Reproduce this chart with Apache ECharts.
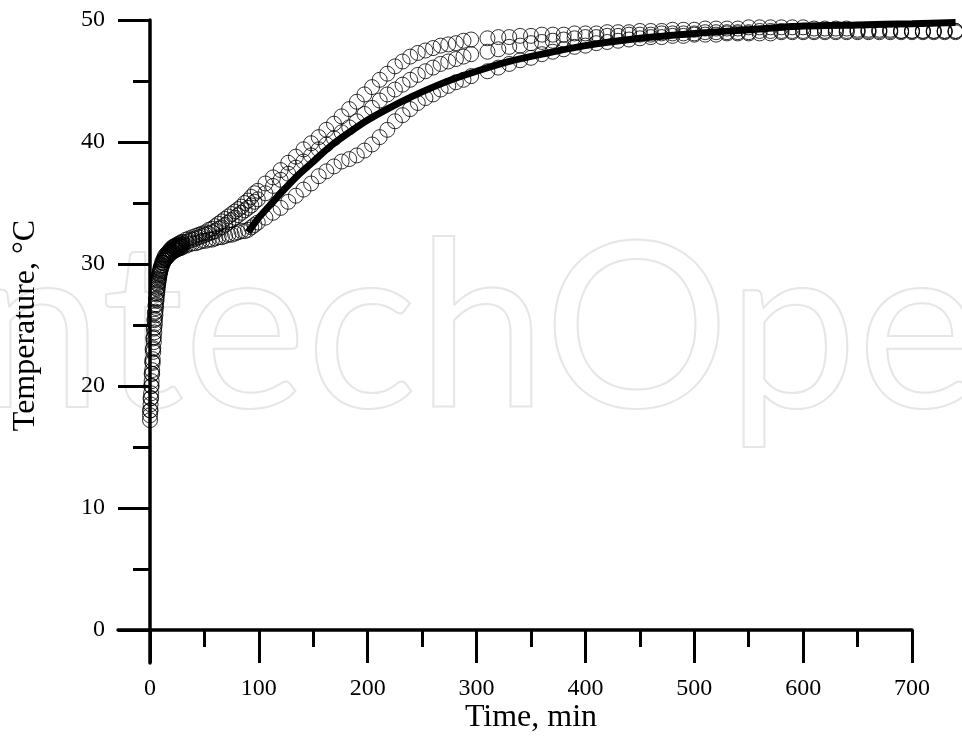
<!DOCTYPE html>
<html>
<head>
<meta charset="utf-8">
<script src="https://cdn.jsdelivr.net/npm/echarts@6/dist/echarts.min.js"></script>
<style>
  html, body { margin: 0; padding: 0; background: #fff; }
  #main { width: 962px; height: 742px; }
</style>
</head>
<body>
<div id="main"></div>
<script>
// tick positions
var xMajor = [0, 100, 200, 300, 400, 500, 600, 700];
var xMinor = [50, 150, 250, 350, 450, 550, 650];
var yMajor = [0, 10, 20, 30, 40, 50];
var yMinor = [5, 15, 25, 35, 45];

// sampling times of the measured runs (min)
var times = [
  0, 0.5, 1, 1.5, 2, 2.5, 3, 3.5, 4, 4.5, 5, 5.5, 6, 6.5, 7, 7.5, 8, 8.5, 9, 9.5, 10,
  11, 12, 13, 14, 15, 16, 17, 18, 19, 20, 21, 22, 23, 24, 25, 26, 27, 28, 29, 30,
  33, 36, 39, 42, 45, 48, 51, 54, 57, 60, 63, 66, 69, 72, 75, 78, 81, 84, 87, 90, 93, 96, 99,
  106, 113, 120, 127, 134, 141, 148, 155, 162, 169, 176, 183, 190, 197, 204, 211, 218, 225,
  232, 239, 246, 253, 260, 267, 274, 281, 288, 295,
  310, 320, 330, 340, 350, 360, 370, 380, 390, 400, 410, 420, 430, 440, 450, 460, 470, 480,
  490, 500, 510, 520, 530, 540, 550, 560, 570, 580, 590, 600, 610, 620, 630, 640, 650, 660,
  670, 680, 690, 700, 710, 720, 730, 740
];

// measured temperatures (°C), three runs
var runA = [
  18.0, 19.0, 20.0, 21.0, 22.0, 23.0, 23.9, 24.7, 25.4, 26.0, 26.6, 27.1, 27.6, 28.0, 28.4, 28.7, 29.0, 29.2, 29.4, 29.6, 29.8,
  30.1, 30.3, 30.5, 30.7, 30.8, 30.9, 31.0, 31.1, 31.2, 31.3, 31.4, 31.4, 31.5, 31.5, 31.6, 31.6, 31.7, 31.7, 31.8, 31.8,
  32.0, 32.1, 32.2, 32.3, 32.4, 32.5, 32.6, 32.8, 32.9, 33.1, 33.3, 33.5, 33.7, 33.9, 34.1, 34.3, 34.5, 34.7, 35.0, 35.2, 35.5, 35.8, 36.0,
  36.6, 37.1, 37.7, 38.3, 38.8, 39.4, 39.9, 40.4, 41.0, 41.5, 42.1, 42.7, 43.3, 43.9, 44.5, 45.1, 45.6, 46.2,
  46.6, 47.0, 47.3, 47.5, 47.7, 47.9, 48.0, 48.1, 48.3, 48.4,
  48.5, 48.6, 48.6, 48.7, 48.7, 48.8, 48.8, 48.8, 48.9, 48.9, 48.9, 49.0, 49.0, 49.0, 49.1, 49.1, 49.1, 49.2,
  49.2, 49.2, 49.3, 49.3, 49.3, 49.3, 49.4, 49.4, 49.4, 49.4, 49.4, 49.4, 49.3, 49.3, 49.3, 49.3, 49.2, 49.2,
  49.2, 49.2, 49.1, 49.1, 49.1, 49.1, 49.1, 49.1
];
var runB = [
  17.2, 18.0, 19.0, 20.0, 21.0, 21.9, 22.8, 23.6, 24.4, 25.1, 25.8, 26.4, 27.0, 27.5, 27.9, 28.3, 28.6, 28.9, 29.2, 29.4, 29.6,
  29.9, 30.1, 30.3, 30.5, 30.6, 30.7, 30.8, 30.9, 31.0, 31.1, 31.2, 31.2, 31.3, 31.3, 31.4, 31.4, 31.5, 31.5, 31.6, 31.6,
  31.8, 31.9, 32.0, 32.1, 32.2, 32.3, 32.4, 32.5, 32.6, 32.7, 32.9, 33.0, 33.2, 33.4, 33.6, 33.8, 34.0, 34.2, 34.4, 34.6, 34.8, 35.1, 35.3,
  35.8, 36.4, 36.9, 37.4, 37.9, 38.4, 38.9, 39.4, 39.8, 40.3, 40.8, 41.2, 41.7, 42.3, 42.8, 43.4, 43.9, 44.3,
  44.7, 45.1, 45.5, 45.8, 46.1, 46.4, 46.6, 46.8, 47.0, 47.2,
  47.4, 47.6, 47.8, 47.9, 48.1, 48.2, 48.3, 48.4, 48.5, 48.6, 48.6, 48.7, 48.7, 48.8, 48.8, 48.8, 48.9, 48.9,
  48.9, 48.9, 49.0, 49.0, 49.0, 49.0, 49.0, 49.1, 49.1, 49.1, 49.1, 49.1, 49.1, 49.1, 49.1, 49.1, 49.1, 49.1,
  49.1, 49.1, 49.1, 49.1, 49.1, 49.1, 49.1, 49.1
];
var runC = [
  17.6, 18.5, 19.4, 20.4, 21.3, 22.2, 23.1, 24.0, 24.8, 25.5, 26.1, 26.7, 27.2, 27.7, 28.1, 28.5, 28.8, 29.1, 29.3, 29.5, 29.7,
  29.9, 30.1, 30.3, 30.4, 30.5, 30.6, 30.7, 30.8, 30.9, 31.0, 31.0, 31.1, 31.1, 31.2, 31.2, 31.3, 31.3, 31.3, 31.4, 31.4,
  31.5, 31.6, 31.7, 31.7, 31.8, 31.9, 31.9, 32.0, 32.0, 32.1, 32.2, 32.2, 32.3, 32.4, 32.4, 32.5, 32.6, 32.7, 32.7, 32.8, 33.0, 33.2, 33.4,
  33.8, 34.2, 34.6, 35.1, 35.6, 36.1, 36.6, 37.2, 37.6, 38.0, 38.4, 38.6, 38.9, 39.3, 39.8, 40.4, 41.0, 41.7,
  42.2, 42.7, 43.2, 43.6, 43.9, 44.3, 44.6, 44.9, 45.1, 45.4,
  45.8, 46.1, 46.4, 46.7, 46.9, 47.2, 47.4, 47.6, 47.8, 47.9, 48.1, 48.2, 48.3, 48.4, 48.5, 48.6, 48.6, 48.7,
  48.7, 48.8, 48.8, 48.8, 48.9, 48.9, 48.9, 48.9, 48.9, 49.0, 49.0, 49.0, 49.0, 49.0, 49.0, 49.0, 49.0, 49.0,
  49.0, 49.0, 49.0, 49.0, 49.0, 49.0, 49.0, 49.0
];

// model curve
var modelTime = [90, 100, 110, 120, 135, 150, 165, 180, 200, 220, 240, 260, 280, 300, 330, 360, 400, 450, 500, 550, 600, 650, 700, 740];
var modelTemp = [32.6, 33.8, 34.8, 35.8, 37.2, 38.4, 39.6, 40.6, 41.8, 42.8, 43.7, 44.5, 45.2, 45.8, 46.6, 47.2, 47.9, 48.5, 48.9, 49.2, 49.5, 49.6, 49.7, 49.8];

var font = "'Liberation Serif', 'Times New Roman', serif";

function pairs(xs, ys) {
  return xs.map(function (x, i) { return [x, ys[i]]; });
}

function xAxisOf(ticks, len, main) {
  return {
    type: 'value', min: -29.4, max: 700, position: 'bottom',
    axisLine: { show: main, onZero: true, onZeroAxisIndex: 0, lineStyle: { color: '#000', width: 3.5 } },
    axisTick: { show: true, customValues: ticks, length: len, lineStyle: { color: '#000', width: 3 } },
    axisLabel: { show: main, customValues: ticks, margin: 14, color: '#000', fontFamily: font, fontSize: 24 },
    splitLine: { show: false }
  };
}

function yAxisOf(ticks, len, main) {
  return {
    type: 'value', min: -2.7, max: 50, position: 'left',
    axisLine: { show: main, onZero: true, onZeroAxisIndex: 0, lineStyle: { color: '#000', width: 3.5 } },
    axisTick: { show: true, customValues: ticks, length: len, lineStyle: { color: '#000', width: 3 } },
    axisLabel: { show: main, customValues: ticks, margin: 13, color: '#000', fontFamily: font, fontSize: 24 },
    splitLine: { show: false }
  };
}

var xMain = xAxisOf(xMajor, 33, true);
xMain.name = 'Time, min';
xMain.nameLocation = 'middle';
xMain.nameGap = 39;
xMain.nameMoveOverlap = false;
xMain.nameTextStyle = { color: '#000', fontFamily: font, fontSize: 32, padding: [0, 0, 0, 32] };

var yMain = yAxisOf(yMajor, 32, true);
yMain.name = 'Temperature, °C';
yMain.nameLocation = 'middle';
yMain.nameGap = 76;
yMain.nameMoveOverlap = false;
yMain.nameTextStyle = { color: '#000', fontFamily: font, fontSize: 32, padding: [0, 0, 0, 32] };

function runSeries(vals) {
  return {
    type: 'scatter',
    data: pairs(times, vals),
    symbol: 'circle',
    symbolSize: 15,
    clip: false,
    itemStyle: { color: 'rgba(0,0,0,0)', borderColor: '#000', borderWidth: 1 },
    z: 3
  };
}

var chart = echarts.init(document.getElementById('main'));
chart.setOption({
  animation: false,
  backgroundColor: '#fff',
  grid: [
    { left: 118, right: 50, top: 20, bottom: 79, outerBoundsMode: 'none' },
    // same scale, wider window so the model curve can run past 700
    { left: 118, right: 6.4, top: 20, bottom: 79, outerBoundsMode: 'none' }
  ],
  xAxis: [
    xMain,
    xAxisOf(xMinor, 17, false),
    { type: 'value', gridIndex: 1, min: -29.4, max: 740, show: false, splitLine: { show: false } }
  ],
  yAxis: [
    yMain,
    yAxisOf(yMinor, 17, false),
    { type: 'value', gridIndex: 1, min: -2.7, max: 50, show: false, splitLine: { show: false } }
  ],
  graphic: [{
    type: 'text', x: -90, y: 332, z: -10, silent: true,
    style: {
      text: 'IntechOpen', fontFamily: 'Lato', fontSize: 232,
      fill: 'none', stroke: '#e6e6e6', lineWidth: 2, verticalAlign: 'middle'
    }
  }],
  series: [
    runSeries(runA),
    runSeries(runB),
    runSeries(runC),
    {
      type: 'line',
      xAxisIndex: 2,
      yAxisIndex: 2,
      data: pairs(modelTime, modelTemp),
      smooth: 0.3,
      showSymbol: false,
      lineStyle: { color: '#000', width: 7 },
      z: 5
    }
  ]
});
</script>
</body>
</html>
